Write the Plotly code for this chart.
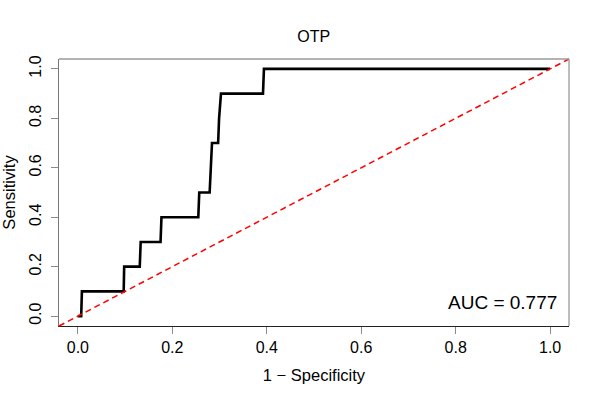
import plotly.graph_objects as go

# ROC curve points (1 - specificity, sensitivity)
fpr = [0.0, 0.007, 0.0085, 0.097, 0.098, 0.131, 0.133, 0.175, 0.177, 0.255,
       0.257, 0.279, 0.284, 0.297, 0.299, 0.303, 0.392, 0.394, 1.0]
tpr = [0.0, 0.0, 0.1, 0.1, 0.2, 0.2, 0.3, 0.3, 0.4, 0.4,
       0.5, 0.5, 0.7, 0.7, 0.8, 0.9, 0.9, 1.0, 1.0]
tick_vals = [0.0, 0.2, 0.4, 0.6, 0.8, 1.0]
tick_text = ["0.0", "0.2", "0.4", "0.6", "0.8", "1.0"]
auc_label = "AUC = 0.777"
title = "OTP"

FONT = "Liberation Sans, Arial, sans-serif"
axis_range = [-0.04, 1.04]

fig = go.Figure()

fig.add_trace(go.Scatter(
    x=fpr, y=tpr,
    mode="lines",
    line=dict(color="black", width=2.6),
    showlegend=False,
))

# chance line, drawn corner to corner like abline(0, 1)
fig.add_shape(type="line", xref="paper", yref="paper",
              x0=0, y0=0, x1=1, y1=1,
              line=dict(color="#ff0000", width=1.5, dash="6px,4px"))

# top and right edges of the box in grey
fig.add_shape(type="line", xref="paper", yref="paper",
              x0=0, y0=1, x1=1, y1=1, line=dict(color="#9a9a9a", width=1.3))
fig.add_shape(type="line", xref="paper", yref="paper",
              x0=1, y0=0, x1=1, y1=1, line=dict(color="#9a9a9a", width=1.3))

fig.add_annotation(x=1.019, y=0.057, xref="x", yref="y",
                   text=auc_label, showarrow=False,
                   xanchor="right", yanchor="middle",
                   font=dict(family=FONT, size=19, color="black"))

fig.update_layout(
    width=600, height=400,
    margin=dict(l=59, r=31, t=59, b=74),
    paper_bgcolor="white", plot_bgcolor="white",
    font=dict(family=FONT, size=16, color="black"),
    title=dict(text=title, x=0.523, xanchor="center", y=0.908, yanchor="middle",
               font=dict(family=FONT, size=16, color="black")),
)

fig.update_xaxes(
    range=axis_range, tickvals=tick_vals, ticktext=tick_text,
    showgrid=False, zeroline=False, automargin=False,
    showline=True, linecolor="#222222", linewidth=1.3,
    ticks="outside", ticklen=7, tickcolor="#8a8a8a", tickwidth=1.3,
    tickfont=dict(family=FONT, size=16),
    title=dict(text="1 \u2212 Specificity", standoff=14,
               font=dict(family=FONT, size=16.5)),
)
fig.update_yaxes(
    range=axis_range, tickvals=tick_vals, ticktext=tick_text,
    showgrid=False, zeroline=False, automargin=False,
    showline=True, linecolor="#777777", linewidth=1.3,
    ticks="outside", ticklen=7, tickcolor="#8a8a8a", tickwidth=1.3,
    tickangle=-90, ticklabelstandoff=3,
    tickfont=dict(family=FONT, size=16),
    title=dict(text="Sensitivity", standoff=11,
               font=dict(family=FONT, size=16.5)),
)

# drop the browser's default body margin so the figure sits at the page corner
fig.write_html("out.html", config={"displayModeBar": False},
               post_script="document.body.style.margin='0';")
